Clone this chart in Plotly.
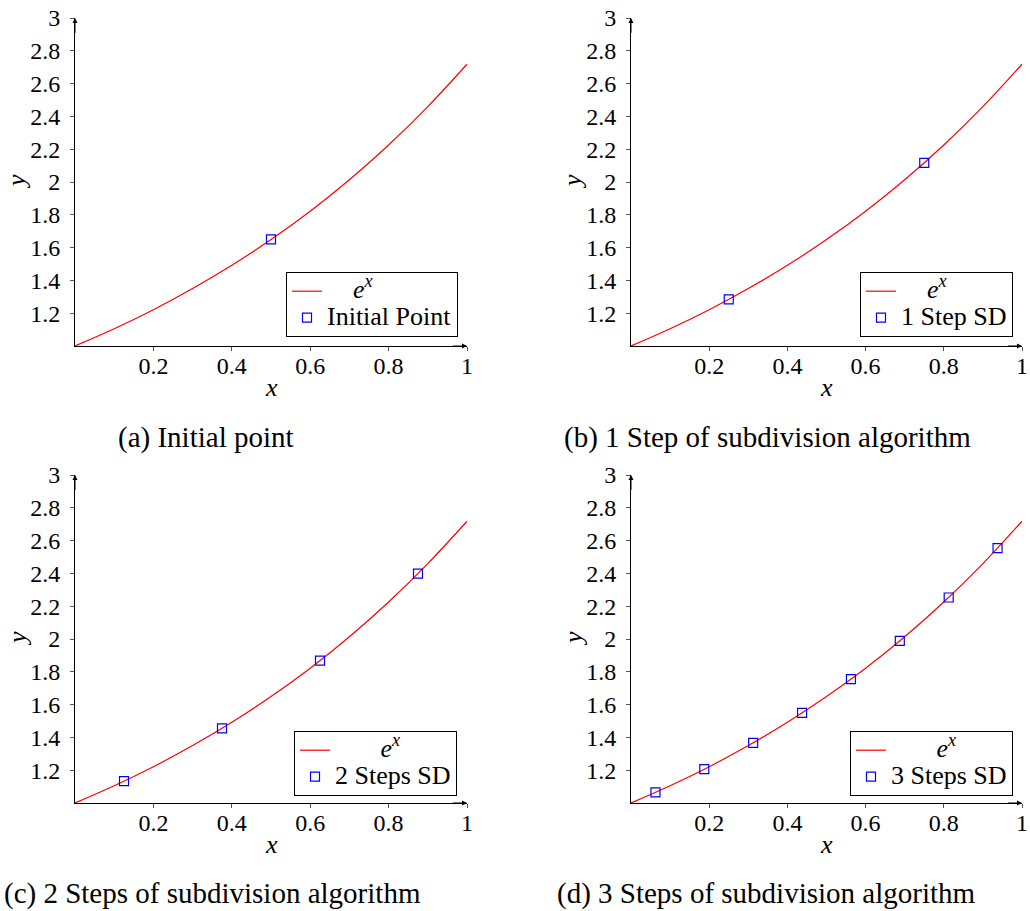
import plotly.graph_objects as go

# Curve e^x
curve_x = [0.0, 0.1, 0.2, 0.3, 0.4, 0.5, 0.6, 0.7, 0.8, 0.9, 1.0]
curve_y = [1.0, 1.105, 1.221, 1.350, 1.492, 1.649, 1.822, 2.014, 2.226, 2.460, 2.718]

# Subdivision points
pts_a_x = [0.5]
pts_a_y = [1.65]
pts_b_x = [0.25, 0.75]
pts_b_y = [1.284, 2.117]
pts_c_x = [0.125, 0.375, 0.625, 0.875]
pts_c_y = [1.133, 1.455, 1.868, 2.399]
pts_d_x = [0.0625, 0.1875, 0.3125, 0.4375, 0.5625, 0.6875, 0.8125, 0.9375]
pts_d_y = [1.065, 1.206, 1.367, 1.549, 1.755, 1.988, 2.253, 2.554]

point_names = ["Initial Point", "1 Step SD", "2 Steps SD", "3 Steps SD"]
curve_name = "<i>e</i><sup><i>x</i></sup>"
captions = ["(a) Initial point", "(b) 1 Step of subdivision algorithm",
            "(c) 2 Steps of subdivision algorithm", "(d) 3 Steps of subdivision algorithm"]
x_ticks = [0.2, 0.4, 0.6, 0.8, 1.0]
x_ticklabels = ["0.2", "0.4", "0.6", "0.8", "1"]
y_ticks = [1.2, 1.4, 1.6, 1.8, 2.0, 2.2, 2.4, 2.6, 2.8, 3.0]
y_ticklabels = ["1.2", "1.4", "1.6", "1.8", "2", "2.2", "2.4", "2.6", "2.8", "3"]

W, H = 1030, 911
FONT = "Liberation Serif"

# pixel layout of each panel: (left, right, bottom, top)
panels = [(75, 467, 346, 18), (631, 1022, 346, 18),
          (75, 467, 803, 475), (631, 1022, 803, 475)]
legend_pos = [(458, 334), (1013, 334), (457, 793), (1013, 793)]
legend_pad = [4, 4, 7, 7]
caption_pos = [(206, 437), (767, 437), (212, 893), (766, 893)]

pts = [(pts_a_x, pts_a_y), (pts_b_x, pts_b_y), (pts_c_x, pts_c_y), (pts_d_x, pts_d_y)]


def big(s):
    return '<span style="font-size:26px">' + s + '</span>'


fig = go.Figure()
layout = dict(width=W, height=H,
              margin=dict(l=0, r=0, t=0, b=0, pad=0, autoexpand=False),
              paper_bgcolor="white", plot_bgcolor="white",
              font=dict(family=FONT, size=24, color="black"))
annotations = []

for i in range(4):
    n = i + 1
    xa = "x" if n == 1 else f"x{n}"
    ya = "y" if n == 1 else f"y{n}"
    leg = "legend" if n == 1 else f"legend{n}"
    l, r, b, t = panels[i]
    xd = [l / W, r / W]
    yd = [1 - b / H, 1 - t / H]
    fig.add_trace(go.Scatter(x=curve_x, y=curve_y, mode="lines",
                             line=dict(color="red", width=1.2, shape="spline"),
                             name=big("&nbsp;" * legend_pad[i] + curve_name),
                             xaxis=xa, yaxis=ya, legend=leg))
    px, py = pts[i]
    fig.add_trace(go.Scatter(x=px, y=py, mode="markers",
                             marker=dict(symbol="square-open", size=9, color="blue",
                                         line=dict(width=1.2)),
                             name=big(point_names[i]), xaxis=xa, yaxis=ya, legend=leg))
    common = dict(showgrid=False, zeroline=False, showline=True, linecolor="black",
                  linewidth=1, ticks="outside", ticklen=4, tickcolor="#555",
                  automargin=False,
                  tickfont=dict(family=FONT, size=24, color="black"))
    layout["xaxis" if n == 1 else f"xaxis{n}"] = dict(
        domain=xd, range=[0, 1.0], anchor=ya, tickvals=x_ticks, ticktext=x_ticklabels,
        ticklabelstandoff=-6, **common)
    layout["yaxis" if n == 1 else f"yaxis{n}"] = dict(
        domain=yd, range=[1, 3], anchor=xa, tickvals=y_ticks, ticktext=y_ticklabels,
        ticklabelstandoff=5, **common)
    # overlay axes giving the inner half of the crossing ticks
    over = dict(showgrid=False, zeroline=False, showline=False, ticks="inside",
                ticklen=4, tickcolor="#555", showticklabels=False, automargin=False)
    layout[f"xaxis{n + 4}"] = dict(domain=xd, range=[0, 1.0], anchor=ya,
                                   overlaying=xa, tickvals=x_ticks, **over)
    layout[f"yaxis{n + 4}"] = dict(domain=yd, range=[1, 3], anchor=xa,
                                   overlaying=ya, tickvals=y_ticks, **over)
    layout[leg] = dict(x=legend_pos[i][0] / W, y=1 - (legend_pos[i][1] + 3) / H,
                       xanchor="right", yanchor="bottom", bordercolor="black",
                       borderwidth=1, bgcolor="white",
                       font=dict(family=FONT, size=18, color="black"),
                       tracegroupgap=0, itemwidth=30)
    # arrows at axis ends
    annotations.append(dict(x=1.0, y=1, ax=0.96, ay=1, xref=xa, yref=ya, axref=xa,
                            ayref=ya, text="", showarrow=True, arrowhead=2,
                            arrowsize=1, arrowwidth=1, arrowcolor="black"))
    annotations.append(dict(x=0, y=3, ax=0, ay=2.9, xref=xa, yref=ya, axref=xa,
                            ayref=ya, text="", showarrow=True, arrowhead=2,
                            arrowsize=1, arrowwidth=1, arrowcolor="black"))
    # axis titles
    annotations.append(dict(x=(l + r) / 2 / W, y=1 - (b + 41) / H, xref="paper",
                            yref="paper", text="<i>x</i>", showarrow=False,
                            xanchor="center", yanchor="middle",
                            font=dict(family=FONT, size=26)))
    annotations.append(dict(x=(l - 58) / W, y=1 - (b + t) / 2 / H, xref="paper",
                            yref="paper", text="<i>y</i>", showarrow=False,
                            xanchor="center", yanchor="middle",
                            textangle=-90, font=dict(family=FONT, size=26)))
    annotations.append(dict(x=caption_pos[i][0] / W, y=1 - caption_pos[i][1] / H,
                            xref="paper", yref="paper", text=captions[i],
                            xanchor="center", yanchor="middle",
                            showarrow=False, font=dict(family=FONT, size=29)))

layout["annotations"] = annotations
layout["showlegend"] = True
fig.update_layout(**layout)
fig.write_html("out.html")
